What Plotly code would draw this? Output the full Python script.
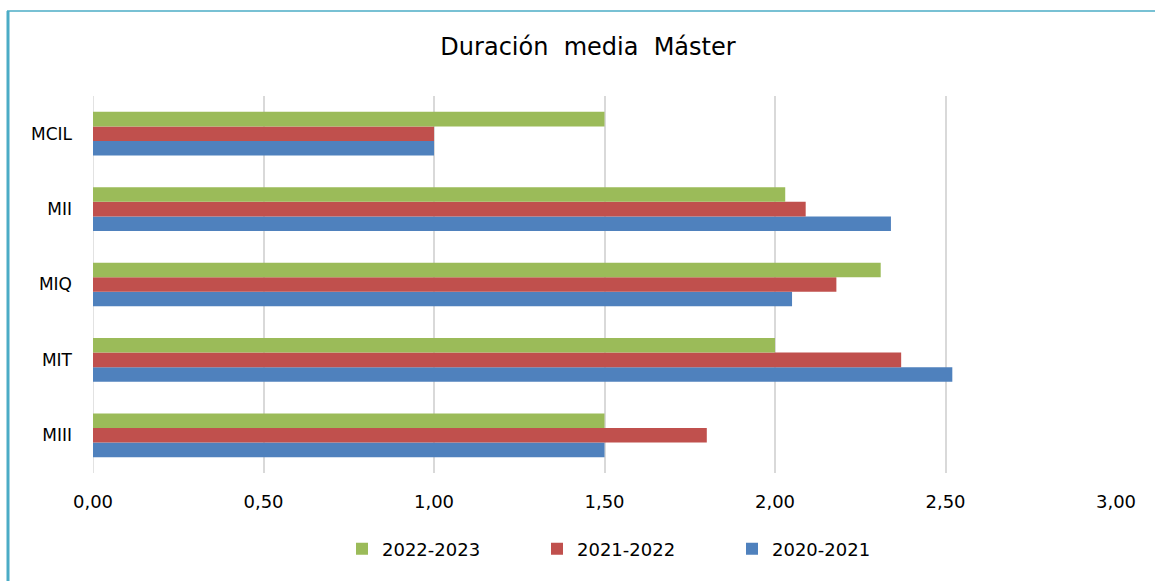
import plotly.graph_objects as go

categories = ["MIII", "MIT", "MIQ", "MII", "MCIL"]
series_names = ["2020-2021", "2021-2022", "2022-2023"]
v_2020_2021 = [1.50, 2.52, 2.05, 2.34, 1.00]
v_2021_2022 = [1.80, 2.37, 2.18, 2.09, 1.00]
v_2022_2023 = [1.50, 2.00, 2.31, 2.03, 1.50]
colors = ["#4f81bd", "#c0504d", "#9bbb59"]
tick_vals = [0, 0.5, 1.0, 1.5, 2.0, 2.5, 3.0]
tick_text = ["0,00", "0,50", "1,00", "1,50", "2,00", "2,50", "3,00"]

W, H = 1155, 581
L, R, T, B = 93, 39, 96, 108
pw, ph = W - L - R, H - T - B

font_family = "'DejaVu Sans', sans-serif"

fig = go.Figure()
for name, vals, col in zip(series_names, [v_2020_2021, v_2021_2022, v_2022_2023], colors):
    fig.add_trace(go.Bar(
        y=categories, x=vals, name=name, orientation="h",
        marker=dict(color=col, line=dict(width=0)),
    ))

def px_x(p):
    return (p - L) / pw

def px_y(p):
    return (H - B - p) / ph

border = "#4bacc6"
shapes = [
    dict(type="line", xref="paper", yref="paper", x0=px_x(7), x1=px_x(1160),
         y0=px_y(11), y1=px_y(11), line=dict(color=border, width=1.5), layer="above"),
    dict(type="line", xref="paper", yref="paper", x0=px_x(8), x1=px_x(8),
         y0=px_y(11), y1=px_y(590), line=dict(color=border, width=3), layer="above"),
    dict(type="line", xref="x", yref="paper", x0=0, x1=0, y0=0, y1=1,
         line=dict(color="#d9d9d9", width=1.5), layer="below"),
]

fig.update_layout(
    width=W, height=H,
    margin=dict(l=L, r=R, t=T, b=B, pad=0),
    paper_bgcolor="white", plot_bgcolor="white",
    barmode="group", bargap=0.42, bargroupgap=0,
    title=dict(text="Duración  media  Máster", x=588 / W, xanchor="center",
               y=1 - 47 / H, yanchor="middle",
               font=dict(family=font_family, size=24, color="#000000")),
    font=dict(family=font_family, size=17, color="#000000"),
    xaxis=dict(range=[0, 3.0], tickvals=tick_vals, ticktext=tick_text,
               showgrid=True, gridcolor="#d9d9d9", gridwidth=1.5,
               zeroline=False, showline=False, ticks="", ticklabelstandoff=16,
               tickfont=dict(size=18)),
    yaxis=dict(type="category", categoryorder="array", categoryarray=categories,
               showgrid=False, zeroline=False, showline=False, ticks="",
               ticklabelstandoff=20, tickfont=dict(size=17)),
    legend=dict(orientation="h", x=px_x(604.5 + 30), xanchor="center",
                y=-(549 - (H - B)) / ph,
                yanchor="middle", traceorder="reversed",
                font=dict(size=18), itemwidth=30, entrywidth=150),
    shapes=shapes,
    showlegend=True,
)

fig.write_html("out.html", config={"displayModeBar": False},
               post_script="document.body.style.margin='0px';")
